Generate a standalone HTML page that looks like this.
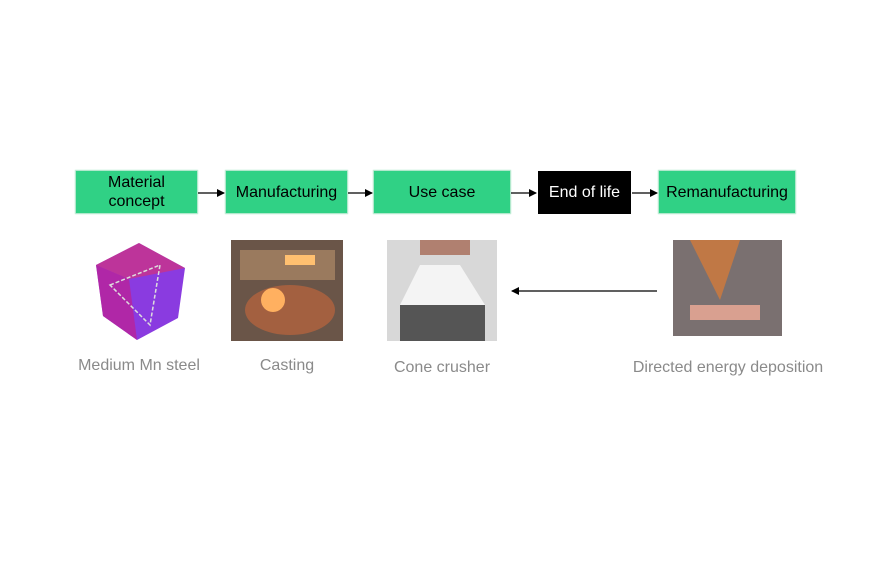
<!DOCTYPE html>
<html><head><meta charset="utf-8"><style>
body{margin:0;width:870px;height:580px;background:#fff;position:relative;overflow:hidden;font-family:"Liberation Sans",sans-serif}
.b{position:absolute;top:171px;height:42px;background:#30d185;color:#000;display:flex;align-items:center;justify-content:center;text-align:center;font-size:16px;line-height:19px;box-shadow:0 0 1px 1px #9fe3c0}
.k{background:#000;color:#fff;box-shadow:none}
.l{position:absolute;color:#8a8a8a;font-size:16px;white-space:nowrap;transform:translateX(-50%)}
</style></head><body>
<div class="b" style="left:76px;width:121px">Material<br>concept</div>
<div class="b" style="left:226px;width:121px">Manufacturing</div>
<div class="b" style="left:374px;width:136px">Use case</div>
<div class="b k" style="left:538px;width:93px;height:43px">End of life</div>
<div class="b" style="left:659px;width:136px">Remanufacturing</div>
<svg style="position:absolute;left:0;top:0" width="870" height="580">
<defs><marker id="a" markerWidth="8" markerHeight="8" refX="7" refY="4" orient="auto" markerUnits="userSpaceOnUse"><path d="M0,0L8,4L0,8z" fill="#000"/></marker></defs>
<g stroke="#000" stroke-width="1.3" marker-end="url(#a)">
<line x1="198" y1="193" x2="224" y2="193"/>
<line x1="348" y1="193" x2="372" y2="193"/>
<line x1="511" y1="193" x2="536" y2="193"/>
<line x1="632" y1="193" x2="657" y2="193"/>
<line x1="657" y1="291" x2="512" y2="291"/>
</g>
<polygon points="139,243 185,268 178,318 137,340 103,316 96,265" fill="#8a3be0"/>
<polygon points="96,265 129,279 137,340 103,316" fill="#c0208f" opacity=".7"/>
<polygon points="139,243 185,268 129,279 96,265" fill="#e0306a" opacity=".6"/>
<path d="M110,285 L160,265 L150,325 Z" fill="none" stroke="#ddd" stroke-width="1.5" stroke-dasharray="4 2"/>
<rect x="231" y="240" width="112" height="101" fill="#6a5548"/>
<rect x="240" y="250" width="95" height="30" fill="#9a7a5e"/>
<ellipse cx="290" cy="310" rx="45" ry="25" fill="#a36040"/>
<circle cx="273" cy="300" r="12" fill="#ffb060"/>
<rect x="285" y="255" width="30" height="10" fill="#ffc070"/>
<rect x="387" y="240" width="110" height="101" fill="#d8d8d8"/>
<rect x="420" y="240" width="50" height="15" fill="#b08070"/>
<path d="M420,265 L460,265 L485,305 L400,305 Z" fill="#f4f4f4"/>
<rect x="400" y="305" width="85" height="36" fill="#555"/>
<rect x="673" y="240" width="109" height="96" fill="#7a7070"/>
<path d="M690,240 L740,240 L720,300 Z" fill="#c07845"/>
<rect x="690" y="305" width="70" height="15" fill="#d9a090"/>
</svg>
<div class="l" style="left:139px;top:357px">Medium Mn steel</div>
<div class="l" style="left:287px;top:357px">Casting</div>
<div class="l" style="left:442px;top:359px">Cone crusher</div>
<div class="l" style="left:728px;top:359px">Directed energy deposition</div>
</body></html>
